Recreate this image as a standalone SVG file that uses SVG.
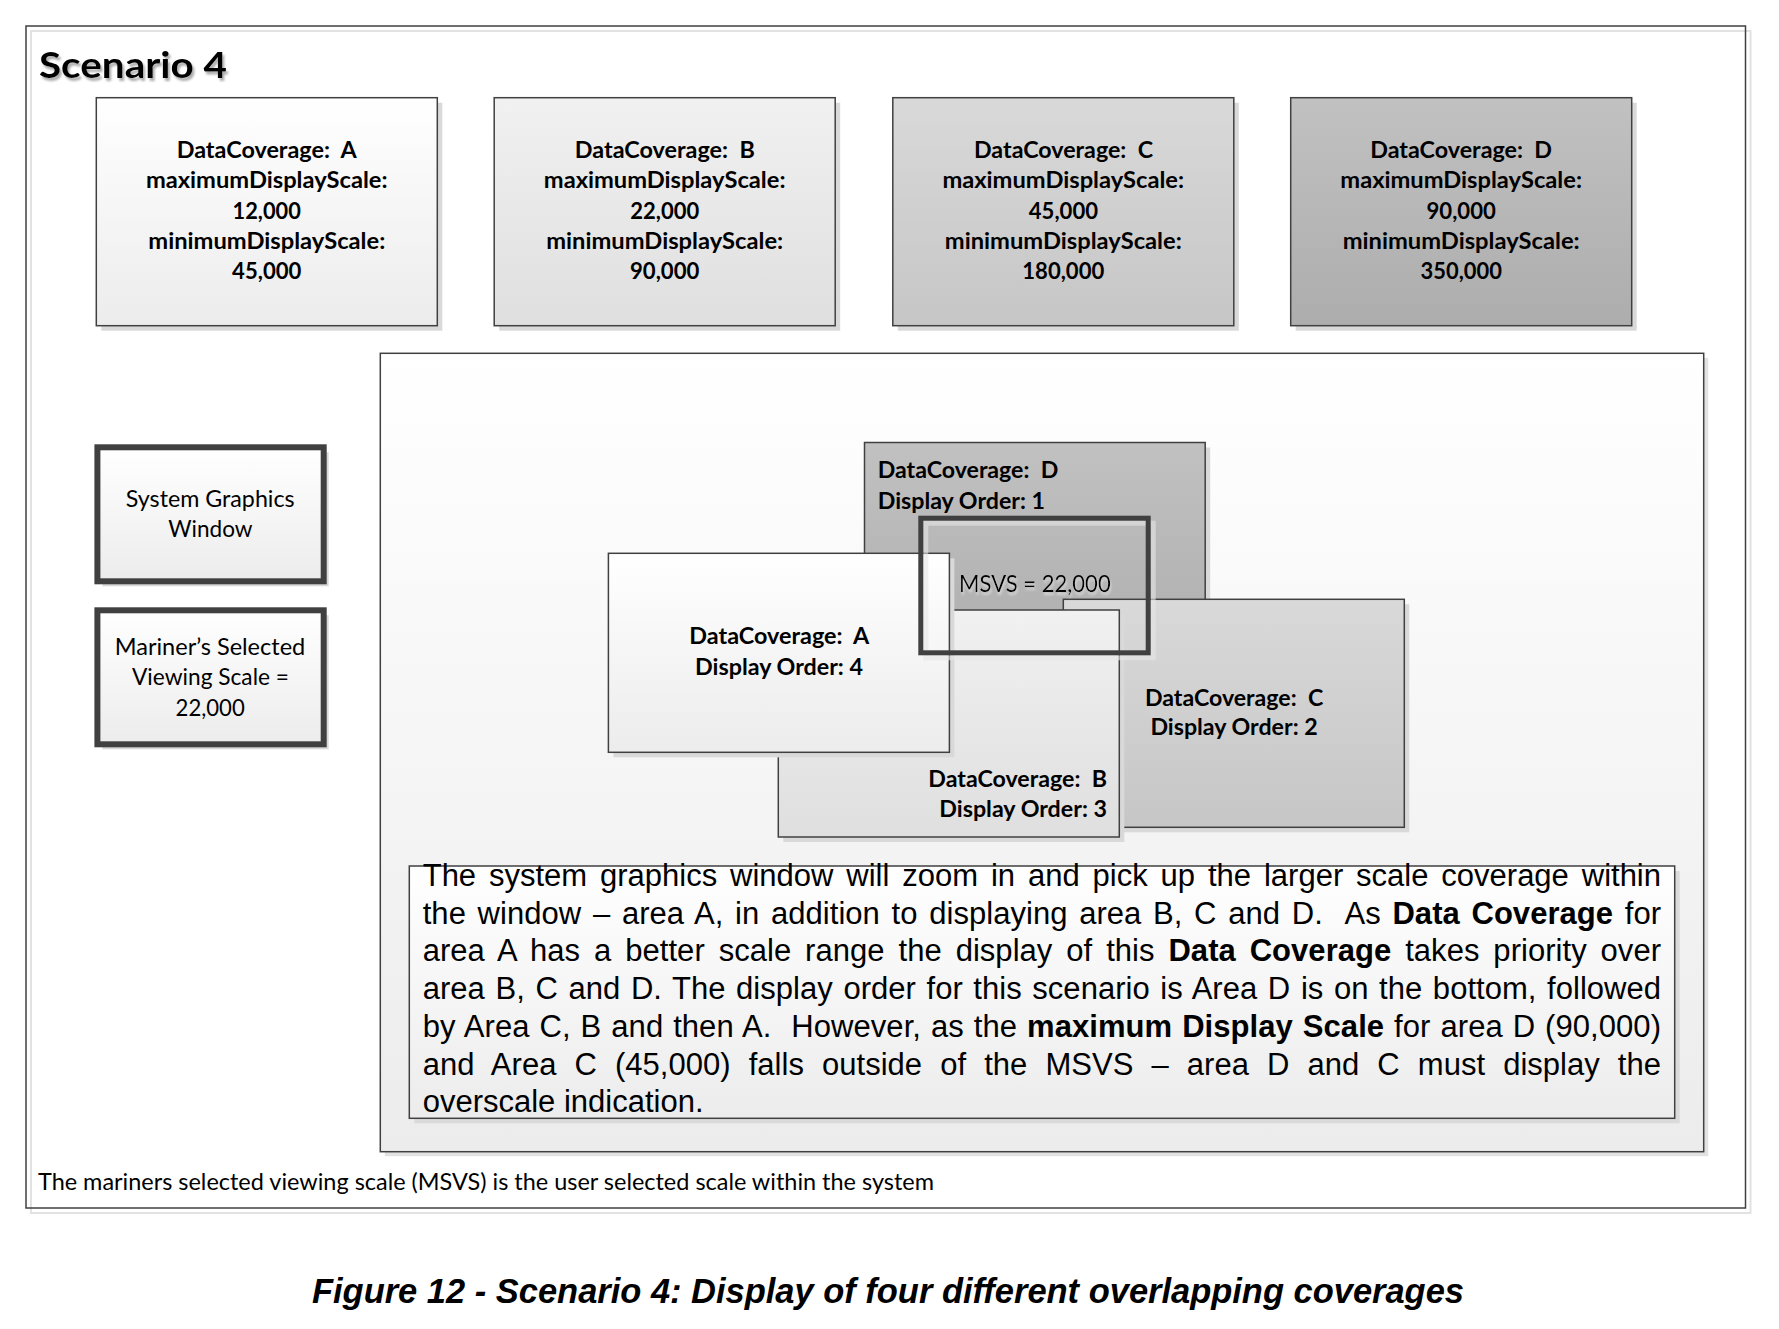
<svg xmlns="http://www.w3.org/2000/svg" width="1779" height="1329" viewBox="0 0 1779 1329" xml:space="preserve">
<defs>
<linearGradient id="gA" x1="0" y1="0" x2="0" y2="1"><stop offset="0" stop-color="#ffffff"/><stop offset="1" stop-color="#ececec"/></linearGradient>
<linearGradient id="gB" x1="0" y1="0" x2="0" y2="1"><stop offset="0" stop-color="#f1f1f1"/><stop offset="1" stop-color="#dfdfdf"/></linearGradient>
<linearGradient id="gC" x1="0" y1="0" x2="0" y2="1"><stop offset="0" stop-color="#d9d9d9"/><stop offset="1" stop-color="#c6c6c6"/></linearGradient>
<linearGradient id="gD" x1="0" y1="0" x2="0" y2="1"><stop offset="0" stop-color="#c1c1c1"/><stop offset="1" stop-color="#adadad"/></linearGradient>
<linearGradient id="gCanvas" x1="0" y1="0" x2="0" y2="1"><stop offset="0" stop-color="#ffffff"/><stop offset="1" stop-color="#ececec"/></linearGradient>
<filter id="titleShadow" x="-5%" y="-20%" width="115%" height="150%"><feDropShadow dx="2" dy="3" stdDeviation="1.2" flood-color="#777777" flood-opacity="0.6"/></filter>
<filter id="softGlow" x="-5%" y="-20%" width="115%" height="160%"><feDropShadow dx="1" dy="3" stdDeviation="0.8" flood-color="#ffffff" flood-opacity="0.45"/></filter>
</defs>
<style>
text{white-space:pre}
.cal{font-family:Lato,Carlito,"Liberation Sans",sans-serif;fill:#000}
.b{font-weight:700}
.r{font-weight:400}
.f22{font-size:22.5px}
.box{stroke:#404040;stroke-width:1.5}
.shadow{fill:#d9d9d9}
.thick{stroke:#404040;stroke-width:6}
.para{font-family:"Liberation Sans",Arial,sans-serif;font-size:31px;fill:#000}
.bold{font-weight:700}
</style>
<rect x="0" y="0" width="1779" height="1329" fill="#ffffff"/>

<!-- outer frame with offset outline shadow -->
<g id="frame">
<rect x="31" y="31" width="1719.5" height="1182" fill="none" stroke="#e2e2e2" stroke-width="2"/>
<rect x="26" y="26" width="1719.5" height="1182" fill="none" stroke="#404040" stroke-width="1.5"/>
</g>

<g id="title">
<text class="cal b" x="39" y="78" font-size="37" textLength="188" lengthAdjust="spacingAndGlyphs" filter="url(#titleShadow)">Scenario 4</text>
</g>

<!-- scale ranges of the four coverages -->
<g id="coverage-a">
<rect class="shadow" x="101.3" y="102.7" width="341" height="228"/>
<rect class="box" x="96.3" y="97.7" width="341" height="228" fill="url(#gA)"/>
<g class="cal b f22">
<text x="176.7" y="158" textLength="180" lengthAdjust="spacingAndGlyphs">DataCoverage:  A</text>
<text x="145.9" y="188.3" textLength="241.7" lengthAdjust="spacingAndGlyphs">maximumDisplayScale:</text>
<text x="232.6" y="218.6" textLength="68.3" lengthAdjust="spacingAndGlyphs">12,000</text>
<text x="148.3" y="248.9" textLength="237" lengthAdjust="spacingAndGlyphs">minimumDisplayScale:</text>
<text x="232.1" y="279.2" textLength="69.3" lengthAdjust="spacingAndGlyphs">45,000</text>
</g>
</g>

<g id="coverage-b">
<rect class="shadow" x="499.2" y="102.7" width="341" height="228"/>
<rect class="box" x="494.2" y="97.7" width="341" height="228" fill="url(#gB)"/>
<g class="cal b f22">
<text x="574.8" y="158" textLength="180" lengthAdjust="spacingAndGlyphs">DataCoverage:  B</text>
<text x="543.8" y="188.3" textLength="241.7" lengthAdjust="spacingAndGlyphs">maximumDisplayScale:</text>
<text x="630.3" y="218.6" textLength="68.9" lengthAdjust="spacingAndGlyphs">22,000</text>
<text x="546.2" y="248.9" textLength="237" lengthAdjust="spacingAndGlyphs">minimumDisplayScale:</text>
<text x="630" y="279.2" textLength="69.4" lengthAdjust="spacingAndGlyphs">90,000</text>
</g>
</g>

<g id="coverage-c">
<rect class="shadow" x="897.8" y="102.7" width="341" height="228"/>
<rect class="box" x="892.8" y="97.7" width="341" height="228" fill="url(#gC)"/>
<g class="cal b f22">
<text x="974" y="158" textLength="179" lengthAdjust="spacingAndGlyphs">DataCoverage:  C</text>
<text x="942.4" y="188.3" textLength="241.7" lengthAdjust="spacingAndGlyphs">maximumDisplayScale:</text>
<text x="1028.8" y="218.6" textLength="69.3" lengthAdjust="spacingAndGlyphs">45,000</text>
<text x="944.8" y="248.9" textLength="237" lengthAdjust="spacingAndGlyphs">minimumDisplayScale:</text>
<text x="1022.3" y="279.2" textLength="82" lengthAdjust="spacingAndGlyphs">180,000</text>
</g>
</g>

<g id="coverage-d">
<rect class="shadow" x="1295.7" y="102.7" width="341" height="228"/>
<rect class="box" x="1290.7" y="97.7" width="341" height="228" fill="url(#gD)"/>
<g class="cal b f22">
<text x="1370.3" y="158" textLength="181.7" lengthAdjust="spacingAndGlyphs">DataCoverage:  D</text>
<text x="1340.3" y="188.3" textLength="241.7" lengthAdjust="spacingAndGlyphs">maximumDisplayScale:</text>
<text x="1426.5" y="218.6" textLength="69.4" lengthAdjust="spacingAndGlyphs">90,000</text>
<text x="1342.7" y="248.9" textLength="237" lengthAdjust="spacingAndGlyphs">minimumDisplayScale:</text>
<text x="1420.5" y="279.2" textLength="81.4" lengthAdjust="spacingAndGlyphs">350,000</text>
</g>
</g>

<!-- legend boxes -->
<g id="legend-window">
<rect class="shadow" x="102.4" y="452.3" width="226.3" height="134"/>
<rect class="thick" x="97.4" y="447.3" width="226.3" height="134" fill="url(#gA)"/>
<g class="cal r f22">
<text x="125.8" y="506.7" textLength="168.8" lengthAdjust="spacingAndGlyphs">System Graphics</text>
<text x="168.3" y="536.7" textLength="84.2" lengthAdjust="spacingAndGlyphs">Window</text>
</g>
</g>

<g id="legend-msvs">
<rect class="shadow" x="102.4" y="615.3" width="226.3" height="134"/>
<rect class="thick" x="97.4" y="610.3" width="226.3" height="134" fill="url(#gA)"/>
<g class="cal r f22">
<text x="114.7" y="655" textLength="190.6" lengthAdjust="spacingAndGlyphs">Mariner’s Selected</text>
<text x="132" y="685" textLength="157" lengthAdjust="spacingAndGlyphs">Viewing Scale =</text>
<text x="175.6" y="716" textLength="69.2" lengthAdjust="spacingAndGlyphs">22,000</text>
</g>
</g>

<!-- display canvas -->
<g id="canvas">
<rect x="384.8" y="357.8" width="1323.4" height="798.4" fill="#e2e2e2"/>
<rect class="box" x="380.3" y="353.3" width="1323.4" height="798.4" fill="url(#gCanvas)"/>
</g>

<!-- overlapping coverages, bottom to top: D, C, B, A -->
<g id="area-d">
<rect class="shadow" x="869.5" y="447.5" width="340.7" height="228"/>
<rect class="box" x="864.5" y="442.5" width="340.7" height="228" fill="url(#gD)"/>
<g class="cal b f22">
<text x="877.7" y="478.3" textLength="180.6" lengthAdjust="spacingAndGlyphs">DataCoverage:  D</text>
<text x="877.7" y="509" textLength="167.3" lengthAdjust="spacingAndGlyphs">Display Order: 1</text>
</g>
</g>

<g id="area-c">
<rect class="shadow" x="1068.3" y="604.3" width="341" height="228"/>
<rect class="box" x="1063.3" y="599.3" width="341" height="228" fill="url(#gC)"/>
<g class="cal b f22">
<text x="1144.9" y="706" textLength="178.3" lengthAdjust="spacingAndGlyphs">DataCoverage:  C</text>
<text x="1150.4" y="735" textLength="167.3" lengthAdjust="spacingAndGlyphs">Display Order: 2</text>
</g>
</g>

<g id="area-b">
<rect class="shadow" x="783.3" y="615" width="341" height="227"/>
<rect class="box" x="778.3" y="610" width="341" height="227" fill="url(#gB)"/>
<g class="cal b f22">
<text x="928.3" y="786.7" textLength="178.7" lengthAdjust="spacingAndGlyphs">DataCoverage:  B</text>
<text x="939.3" y="817.3" textLength="167.7" lengthAdjust="spacingAndGlyphs">Display Order: 3</text>
</g>
</g>

<g id="area-a">
<rect class="shadow" x="613.4" y="558.3" width="341" height="199"/>
<rect class="box" x="608.4" y="553.3" width="341" height="199" fill="url(#gA)"/>
<g class="cal b f22">
<text x="689.3" y="644.3" textLength="180" lengthAdjust="spacingAndGlyphs">DataCoverage:  A</text>
<text x="695" y="675" textLength="168" lengthAdjust="spacingAndGlyphs">Display Order: 4</text>
</g>
</g>

<!-- mariner's selected viewing scale window -->
<g id="msvs-window">
<rect x="925.8" y="523.2" width="227.4" height="134.6" fill="none" stroke="#e6e6e6" stroke-opacity="0.6" stroke-width="5"/>
<rect x="920.8" y="518.2" width="227.4" height="134.6" fill="none" stroke="#404040" stroke-width="5"/>
<text class="cal r f22" x="959" y="592.3" textLength="151.7" lengthAdjust="spacingAndGlyphs" filter="url(#softGlow)">MSVS = 22,000</text>
</g>

<!-- explanatory text box -->
<g id="explanation">
<rect x="414.3" y="871" width="1265.4" height="252.3" fill="#dadada"/>
<rect class="box" x="409.3" y="866" width="1265.4" height="252.3" fill="url(#gA)"/>
<text class="para" x="422.7" y="885.7" word-spacing="4.28" textLength="1238.3" lengthAdjust="spacing">The system graphics window will zoom in and pick up the larger scale coverage within</text>
<text class="para" x="422.7" y="923.5" word-spacing="3.05" textLength="1238.3" lengthAdjust="spacing">the window – area A, in addition to displaying area B, C and D.  As <tspan class="bold">Data Coverage</tspan> for</text>
<text class="para" x="422.7" y="961.2" word-spacing="5.27" textLength="1238.3" lengthAdjust="spacing">area A has a better scale range the display of this <tspan class="bold">Data Coverage</tspan> takes priority over</text>
<text class="para" x="422.7" y="999" word-spacing="1.98" textLength="1238.3" lengthAdjust="spacing">area B, C and D. The display order for this scenario is Area D is on the bottom, followed</text>
<text class="para" x="422.7" y="1036.8" word-spacing="1.28" textLength="1238.3" lengthAdjust="spacing">by Area C, B and then A.  However, as the <tspan class="bold">maximum Display Scale</tspan> for area D (90,000)</text>
<text class="para" x="422.7" y="1074.6" word-spacing="9.44" textLength="1238.3" lengthAdjust="spacing">and Area C (45,000) falls outside of the MSVS – area D and C must display the</text>
<text class="para" x="422.7" y="1112.3">overscale indication.</text>
</g>

<g id="footnote">
<text class="cal r f22" x="38" y="1190" textLength="896" lengthAdjust="spacingAndGlyphs">The mariners selected viewing scale (MSVS) is the user selected scale within the system</text>
</g>

<g id="caption">
<text x="312" y="1302.7" font-family="'Liberation Sans', Arial, sans-serif" font-size="34.5" font-weight="700" font-style="italic" textLength="1152" lengthAdjust="spacingAndGlyphs">Figure 12 - Scenario 4: Display of four different overlapping coverages</text>
</g>
</svg>
